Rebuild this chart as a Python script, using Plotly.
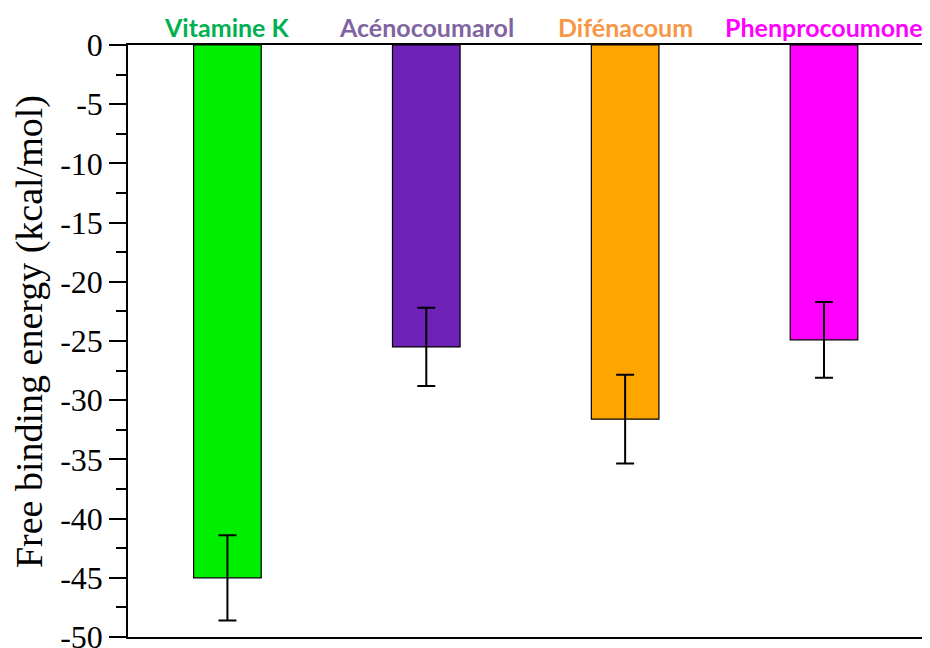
import plotly.graph_objects as go

categories = ["Vitamine K", "Acénocoumarol", "Difénacoum", "Phenprocoumone"]
energies = [-45.0, -25.5, -31.6, -24.9]
errors = [3.6, 3.3, 3.75, 3.2]
bar_colors = ["#00EE00", "#6F22B8", "#FFA500", "#FF00FF"]
label_colors = ["#00B050", "#8064A2", "#F79646", "#FF00FF"]
ytick_vals = list(range(0, -55, -5))
ytick_text = [str(v) for v in ytick_vals]

fig = go.Figure()
fig.add_trace(go.Bar(
    x=categories, y=energies,
    marker=dict(color=bar_colors, line=dict(color="black", width=1.2)),
    width=0.34,
    error_y=dict(type="data", array=errors, visible=True, color="black", thickness=2, width=9),
    showlegend=False,
))

for cat, col in zip(categories, label_colors):
    fig.add_annotation(x=cat, y=1, xref="x", yref="paper", yanchor="bottom",
                       text=f"<b>{cat}</b>", showarrow=False, yshift=1,
                       font=dict(family="Lato", size=25, color=col))

fig.add_annotation(x=0, xref="paper", xshift=-99, y=0.515, yref="paper",
                   text="Free binding energy (kcal/mol)", textangle=-90,
                   showarrow=False, xanchor="center", yanchor="middle",
                   font=dict(family="Liberation Serif", size=38, color="black"))

# page body has an 8px default margin; compensate so the plot lands where the reference has it
fig.update_layout(
    width=922, height=640,
    margin=dict(l=120, r=5, t=37, b=11),
    paper_bgcolor="white", plot_bgcolor="white",
    font=dict(family="Liberation Serif", color="black"),
    xaxis=dict(showticklabels=False, ticks="", showline=True, linecolor="black",
               linewidth=1.5, mirror=True, showgrid=False, automargin=False),
    yaxis=dict(range=[-50, 0], tickvals=ytick_vals, ticktext=ytick_text,
               ticks="outside", ticklen=17, tickwidth=1.5, tickcolor="black",
               showline=True, linecolor="black", linewidth=1.5, mirror=True,
               showgrid=False, zeroline=False, automargin=False,
               ticklabeloverflow="allow",
               tickfont=dict(family="Liberation Serif", size=32),
               minor=dict(dtick=2.5, ticks="outside", ticklen=10, tickwidth=1.5,
                          tickcolor="black", showgrid=False)),
)

fig.write_html("out.html")
